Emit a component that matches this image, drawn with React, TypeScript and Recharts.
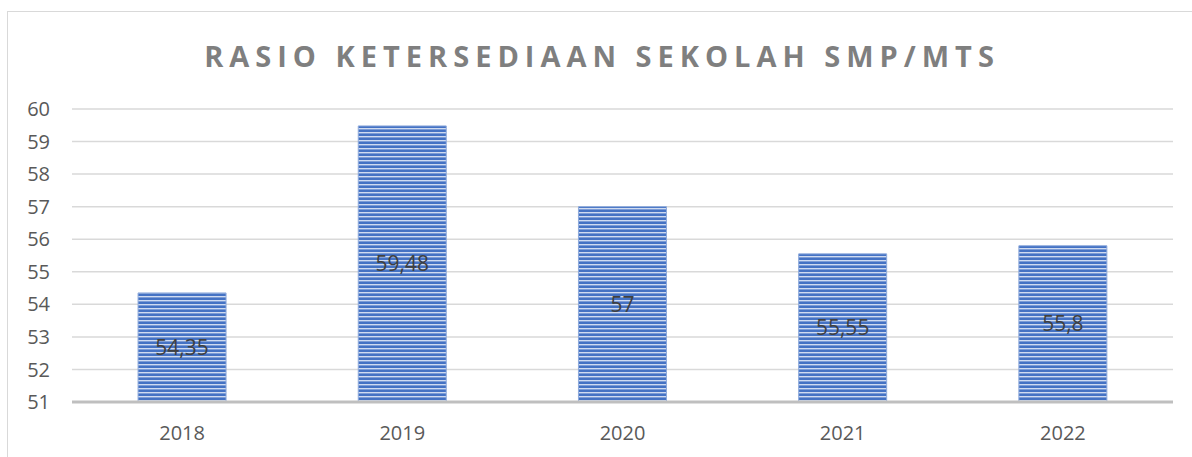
import React from "react";
import { BarChart, Bar, XAxis, YAxis, CartesianGrid, LabelList } from "recharts";

const years = ["2018", "2019", "2020", "2021", "2022"];
const ratios = [54.35, 59.48, 57, 55.55, 55.8];
const yTicks = [51, 52, 53, 54, 55, 56, 57, 58, 59, 60];
const title = "RASIO KETERSEDIAAN SEKOLAH SMP/MTS";

const data = years.map((y, i) => ({ year: y, value: ratios[i] }));

const FONT = "'Open Sans', 'Noto Sans', sans-serif";

export default function App() {
  return (
    <div style={{ position: "absolute", left: 0, top: 0, width: 1192, height: 457, background: "#fff", overflow: "hidden", fontFamily: FONT }}>
      <svg width={0} height={0} style={{ position: "absolute" }}>
        <defs>
          <pattern id="hstripe" patternUnits="userSpaceOnUse" width={8} height={4}>
            <rect x={0} y={0} width={8} height={4} fill="#4472c4" />
            <rect x={0} y={0} width={8} height={1.4} fill="#cfdbf1" />
          </pattern>
        </defs>
      </svg>
      <div style={{ position: "absolute", left: 7, top: 11, width: 1200, height: 460, border: "1px solid #d9d9d9", boxSizing: "border-box" }} />
      <div style={{ position: "absolute", left: 6, top: 36, width: 1192, textAlign: "center", fontSize: 29, fontWeight: 700, letterSpacing: 6, color: "#7f7f7f", whiteSpace: "nowrap" }}>
        {title}
      </div>
      <div style={{ position: "absolute", left: 0, top: 0 }}>
        <BarChart width={1192} height={457} data={data} margin={{ top: 109, right: 19, bottom: 10, left: 22 }} barCategoryGap="30%">
          <CartesianGrid vertical={false} stroke="#d9d9d9" strokeWidth={1.5} />
          <XAxis dataKey="year" height={45} tickSize={0} tickMargin={24} axisLine={{ stroke: "#bfbfbf", strokeWidth: 3 }} tickLine={false} tick={{ fill: "#595959", fontSize: 20, fontFamily: FONT }} />
          <YAxis width={50} domain={[51, 60]} ticks={yTicks} interval={0} allowDataOverflow tickSize={0} tickMargin={22} axisLine={false} tickLine={false} tick={{ fill: "#595959", fontSize: 20, fontFamily: FONT }} />
          <Bar dataKey="value" fill="url(#hstripe)" stroke="#8eaadb" strokeWidth={1} isAnimationActive={false}>
            <LabelList dataKey="value" position="center" formatter={(v: any) => String(v).replace(".", ",")} style={{ fill: "#404040", fontSize: 21, fontFamily: FONT }} />
          </Bar>
        </BarChart>
      </div>
    </div>
  );
}
